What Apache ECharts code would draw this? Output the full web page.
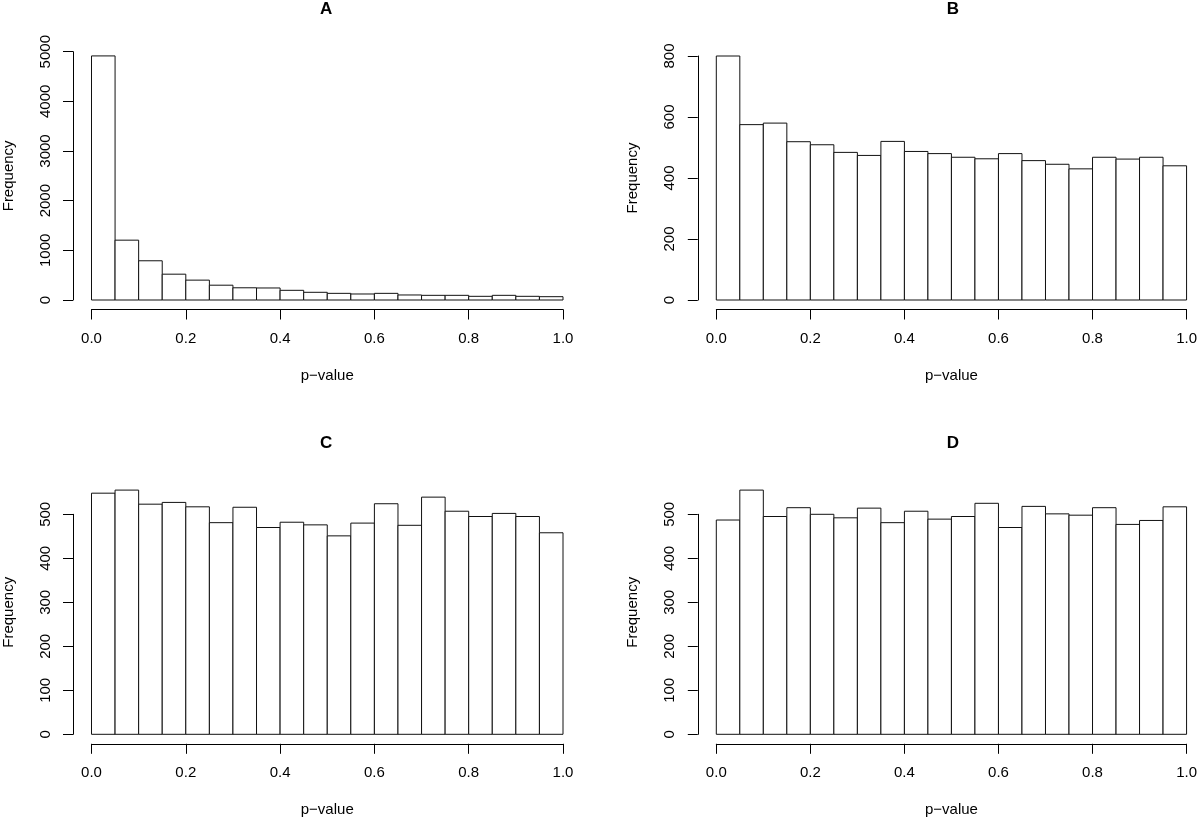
<!DOCTYPE html>
<html>
<head>
<meta charset="utf-8">
<script src="https://cdn.jsdelivr.net/npm/echarts@6/dist/echarts.min.js"></script>
<style>
html,body{margin:0;padding:0;background:#fff;}
#chart{width:1200px;height:819px;}
</style>
</head>
<body>
<div id="chart"></div>
<script>
// ---- data ----
const binStart = [0.00,0.05,0.10,0.15,0.20,0.25,0.30,0.35,0.40,0.45,0.50,0.55,0.60,0.65,0.70,0.75,0.80,0.85,0.90,0.95];
const binEnd   = [0.05,0.10,0.15,0.20,0.25,0.30,0.35,0.40,0.45,0.50,0.55,0.60,0.65,0.70,0.75,0.80,0.85,0.90,0.95,1.00];
const panelTitles = ['A','B','C','D'];
const countsA = [4915,1205,790,520,400,298,246,242,195,155,134,121,134,101,94,94,74,94,74,67];
const countsB = [800,575,580,519,509,484,474,520,487,480,468,463,480,457,445,430,468,462,468,440];
const countsC = [548,555,523,527,517,481,516,470,482,476,451,480,524,475,539,507,495,502,495,458];
const countsD = [487,555,495,515,500,492,514,481,507,489,495,525,470,518,501,498,515,477,486,517];
const xTicks = [0,0.2,0.4,0.6,0.8,1.0];
const yMaxA = 5000, yStepA = 1000;
const yMaxB = 800,  yStepB = 200;
const yMaxC = 500,  yStepC = 100;
const yMaxD = 500,  yStepD = 100;
const xLabel = 'p\u2212value';
const yLabel = 'Frequency';

// ---- layout ----
const FONT = '"Liberation Sans", Arial, Helvetica, sans-serif';
const grids = [
  {left: 89.5,  top: 51.7,  width: 473.5, height: 248.3},
  {left: 716.3, top: 56,    width: 473.1, height: 244},
  {left: 89.5,  top: 514.3, width: 473.5, height: 220},
  {left: 716.3, top: 514.3, width: 473.1, height: 220}
];
const yMax = [yMaxA, yMaxB, yMaxC, yMaxD];
const ySteps = [yStepA, yStepB, yStepC, yStepD];
const allCounts = [countsA, countsB, countsC, countsD];
const titleTops = [1, 1, 435, 435];
const namePad = [[0,0,0,0],[0,0,0,0],[0,0,0,24],[0,0,0,24]];

function renderItem(params, api) {
  const p0 = api.coord([api.value(0), api.value(2)]);
  const p1 = api.coord([api.value(1), 0]);
  return {
    type: 'rect',
    shape: {x: p0[0], y: p0[1], width: p1[0] - p0[0], height: p1[1] - p0[1]},
    style: {fill: '#ffffff', stroke: '#111', lineWidth: 1}
  };
}

const option = {
  backgroundColor: '#ffffff',
  animation: false,
  title: grids.map((g, i) => ({
    text: panelTitles[i],
    left: g.left + g.width / 2,
    top: titleTops[i],
    padding: 0,
    textAlign: 'center',
    textStyle: {fontFamily: FONT, fontSize: 17, fontWeight: 'bold', color: '#000'}
  })),
  grid: grids.map(g => Object.assign({containLabel: false}, g)),
  xAxis: grids.map((g, i) => ({
    type: 'value', gridIndex: i, min: 0, max: 1, interval: 0.2,
    offset: 9.5,
    name: xLabel, nameLocation: 'middle', nameGap: 59,
    nameTextStyle: {fontFamily: FONT, fontSize: 15, color: '#000'},
    axisLine: {show: true, onZero: false, lineStyle: {color: '#000', width: 1}},
    axisTick: {show: true, length: 10, lineStyle: {color: '#000', width: 1}},
    axisLabel: {fontFamily: FONT, fontSize: 15, color: '#000', margin: 22,
      formatter: v => v.toFixed(1), showMinLabel: true, showMaxLabel: true},
    splitLine: {show: false}
  })),
  yAxis: grids.map((g, i) => ({
    type: 'value', gridIndex: i, min: 0, max: yMax[i], interval: ySteps[i],
    offset: 18.5,
    name: yLabel, nameLocation: 'middle', nameGap: 57,
    nameTextStyle: {fontFamily: FONT, fontSize: 15, color: '#000', padding: namePad[i]},
    axisLine: {show: true, onZero: false, lineStyle: {color: '#000', width: 1}},
    axisTick: {show: true, length: 10, lineStyle: {color: '#000', width: 1}},
    axisLabel: {fontFamily: FONT, fontSize: 15, color: '#000', margin: 20, rotate: 90,
      formatter: v => String(v)},
    splitLine: {show: false}
  })),
  series: allCounts.map((counts, i) => ({
    type: 'custom',
    xAxisIndex: i, yAxisIndex: i,
    clip: false,
    renderItem: renderItem,
    encode: {x: [0, 1], y: 2},
    data: counts.map((c, k) => [binStart[k], binEnd[k], c])
  }))
};

const chart = echarts.init(document.getElementById('chart'), null, {renderer: 'canvas'});
chart.setOption(option);
</script>
</body>
</html>
